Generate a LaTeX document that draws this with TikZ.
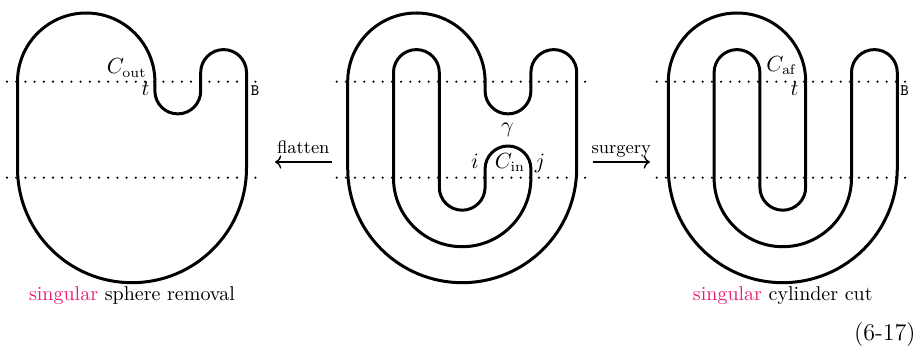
\documentclass[tikz,border=0pt]{standalone}
\usepackage{amsmath,amssymb}
\usepackage{xcolor}
\usepackage{tikz}
\usetikzlibrary{arrows.meta}

\definecolor{singpink}{RGB}{233,30,118}

\begin{document}
\begin{tikzpicture}[
  x=0.5pt,y=-0.5pt,
  % Styles
  curve/.style={line width=1.5pt,line join=round},
  cutline/.style={line width=1.2pt,line cap=round,dash pattern=on 0pt off 4.6pt},
  mlabel/.style={inner sep=0pt,anchor=base,font=\fontsize{10.5}{12}\selectfont},
  blabel/.style={inner sep=0pt,anchor=base,font=\fontsize{8}{9}\ttfamily},
  caption/.style={inner sep=0pt,anchor=base,font=\fontsize{10}{12}\selectfont},
  movelabel/.style={inner sep=0pt,anchor=base,font=\fontsize{9}{11}\selectfont},
  movearrow/.style={->,line width=0.7pt},
  ]
\useasboundingbox (0,0) rectangle (918,352);

%--- Left: sphere removal -------------------------------------------
\begin{scope}[shift={(17.5,0)}]
% cut levels
\draw[cutline] (-10.5,81.7) -- (240.5,81.7);
\draw[cutline] (-10.5,177.7) -- (240.5,177.7);
% surface
\draw[curve] (0,168.2) -- (0,81.7) arc[start angle=180,end angle=360,radius=68.7]
  -- (137.4,91) arc[start angle=180,end angle=0,radius=22.9]
  -- (183.2,72.5) arc[start angle=180,end angle=360,radius=22.9]
  -- (229,168.2) arc[start angle=0,end angle=180,radius=114.5] -- cycle;
% labels
\node[mlabel] (cout) at (109.2,74) {$C_{\mathrm{out}}$};
\node[mlabel] (tl) at (128,95.5) {$t$};
\node[blabel] (bl) at (237.5,95.5) {B};
\node[caption] (capl) at (114.5,301) {\textcolor{singpink}{singular} sphere removal};
\end{scope}

%--- Middle: before the move ----------------------------------------
\begin{scope}[shift={(347.7,0)}]
% cut levels
\draw[cutline] (-11,81.7) -- (239,81.7);
\draw[cutline] (-11,177.7) -- (239,177.7);
% outer boundary
\draw[curve] (0,168.2) -- (0,81.7) arc[start angle=180,end angle=360,radius=68.7]
  -- (137.4,91) arc[start angle=180,end angle=0,radius=22.9]
  -- (183.2,72.5) arc[start angle=180,end angle=360,radius=22.9]
  -- (229,168.2) arc[start angle=0,end angle=180,radius=114.5] -- cycle;
% inner boundary
\draw[curve] (45.8,178) -- (45.8,72.5) arc[start angle=180,end angle=360,radius=22.9]
  -- (91.6,187.3) arc[start angle=180,end angle=0,radius=22.9]
  -- (137.4,168.9) arc[start angle=180,end angle=360,radius=22.9]
  -- (183.2,178) arc[start angle=0,end angle=180,radius=68.7] -- cycle;
% labels
\node[mlabel] (gam) at (159.8,132.5) {$\gamma$};
\node[mlabel] (im) at (127.3,168.3) {$i$};
\node[mlabel] (cin) at (162.3,168.3) {$C_{\mathrm{in}}$};
\node[mlabel] (jm) at (192.3,168.3) {$j$};
\end{scope}

%--- Right: cylinder cut --------------------------------------------
\begin{scope}[shift={(668.3,0)}]
% cut levels
\draw[cutline] (-11.6,81.7) -- (239.7,81.7);
\draw[cutline] (-11.6,177.7) -- (239.7,177.7);
% surface
\draw[curve] (0,168.2) -- (0,81.7) arc[start angle=180,end angle=360,radius=68.7]
  -- (137.4,187.3) arc[start angle=0,end angle=180,radius=22.9]
  -- (91.6,72.5) arc[start angle=360,end angle=180,radius=22.9]
  -- (45.8,178) arc[start angle=180,end angle=0,radius=68.7]
  -- (183.2,72.5) arc[start angle=180,end angle=360,radius=22.9]
  -- (229,168.2) arc[start angle=0,end angle=180,radius=114.5] -- cycle;
% labels
\node[mlabel] (caf) at (113.4,71.7) {$C_{\mathrm{af}}$};
\node[mlabel] (tr) at (126.2,95.5) {$t$};
\node[blabel] (br) at (236.2,95.5) {B};
\node[caption] (capr) at (114.5,301) {\textcolor{singpink}{singular} cylinder cut};
\end{scope}

%--- Moves between the pictures -------------------------------------
\coordinate (flatR) at (331.7,162);
\coordinate (flatL) at (275,162);
\draw[movearrow] (flatR) -- (flatL);
\node[movelabel] (flat) at (303.3,154) {flatten};

\coordinate (surgL) at (592.7,162);
\coordinate (surgR) at (650,162);
\draw[movearrow] (surgL) -- (surgR);
\node[movelabel] (surg) at (621.3,154) {surgery};

% equation number
\node[inner sep=0pt,anchor=base east,font=\fontsize{12}{14}\selectfont] (eqno) at (916,341) {(6-17)};

\end{tikzpicture}
\end{document}
